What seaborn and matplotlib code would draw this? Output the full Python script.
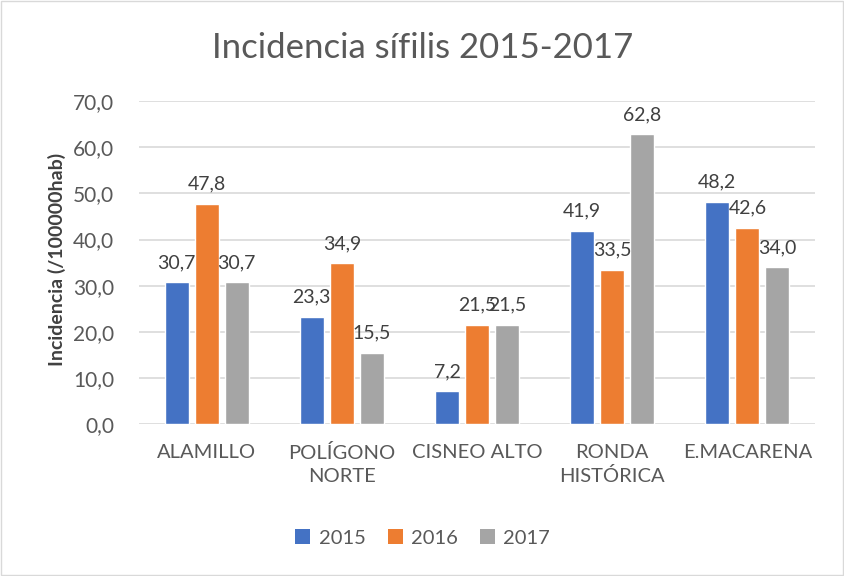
import matplotlib
matplotlib.use("Agg")
import matplotlib.pyplot as plt
import seaborn as sns
import pandas as pd
from matplotlib.patches import Rectangle, Patch

categories = ["ALAMILLO", "POLÍGONO\nNORTE", "CISNEO ALTO", "RONDA\nHISTÓRICA", "E.MACARENA"]
years = ["2015", "2016", "2017"]
v2015 = [30.7, 23.3, 7.2, 41.9, 48.2]
v2016 = [47.8, 34.9, 21.5, 33.5, 42.6]
v2017 = [30.7, 15.5, 21.5, 62.8, 34.0]
colors = ["#4472C4", "#ED7D31", "#A5A5A5"]
yticks = [0, 10, 20, 30, 40, 50, 60, 70]

rows = []
for yr, vals in zip(years, [v2015, v2016, v2017]):
    for c, v in zip(categories, vals):
        rows.append({"cat": c, "year": yr, "val": v})
df = pd.DataFrame(rows)

sns.set_theme(style="white")
plt.rcParams["font.family"] = ["Lato", "DejaVu Sans"]
txt = "#595959"

fig = plt.figure(figsize=(8.45, 5.76), dpi=100)
ax = fig.add_axes([0.1645, 0.2634, 0.80, 0.5613])
sns.barplot(data=df, x="cat", y="val", hue="year", palette=colors,
            width=0.666, gap=0.2, ax=ax, legend=False, saturation=1)

ax.set_ylim(0, 70)
ax.set_yticks(yticks)
ax.set_yticklabels([f"{t:.1f}".replace(".", ",") for t in yticks], color=txt, fontsize=15)
ax.tick_params(axis="y", length=0, pad=18)
ax.tick_params(axis="x", length=0, pad=14)
for lab in ax.get_xticklabels():
    lab.set_color(txt)
    lab.set_fontsize(14.5)
    lab.set_linespacing(1.45)
ax.set_xlabel("")
ax.set_ylabel("")
ax.set_axisbelow(True)
ax.yaxis.grid(True, color="#D9D9D9", linewidth=1.2)
for s in ax.spines.values():
    s.set_visible(False)
ax.set_xlim(-0.5, 4.5)

for cont in ax.containers:
    ax.bar_label(cont, labels=[f"{b.get_height():.1f}".replace(".", ",") for b in cont],
                 padding=8, fontsize=14, color="#404040")

fig.text(0.5, 0.917, "Incidencia sífilis 2015-2017", ha="center", va="center",
         fontsize=25, color=txt)
fig.text(0.0675, 0.549, "Incidencia (/100000hab)", rotation=90, ha="center", va="center",
         fontsize=14, fontweight="bold", color="#404040")

handles = [Patch(facecolor=c, edgecolor="none") for c in colors]
fig.legend(handles, years, loc="center", bbox_to_anchor=(0.5, 0.066), ncol=3, frameon=False,
           fontsize=14.5, labelcolor=txt, handlelength=0.75, handleheight=0.75,
           columnspacing=1.1, handletextpad=0.4)

fig.patches.append(Rectangle((0.001, 0.001), 0.997, 0.997, transform=fig.transFigure,
                             fill=False, edgecolor="#D9D9D9", linewidth=1))
fig.savefig("out.png", dpi=100)
